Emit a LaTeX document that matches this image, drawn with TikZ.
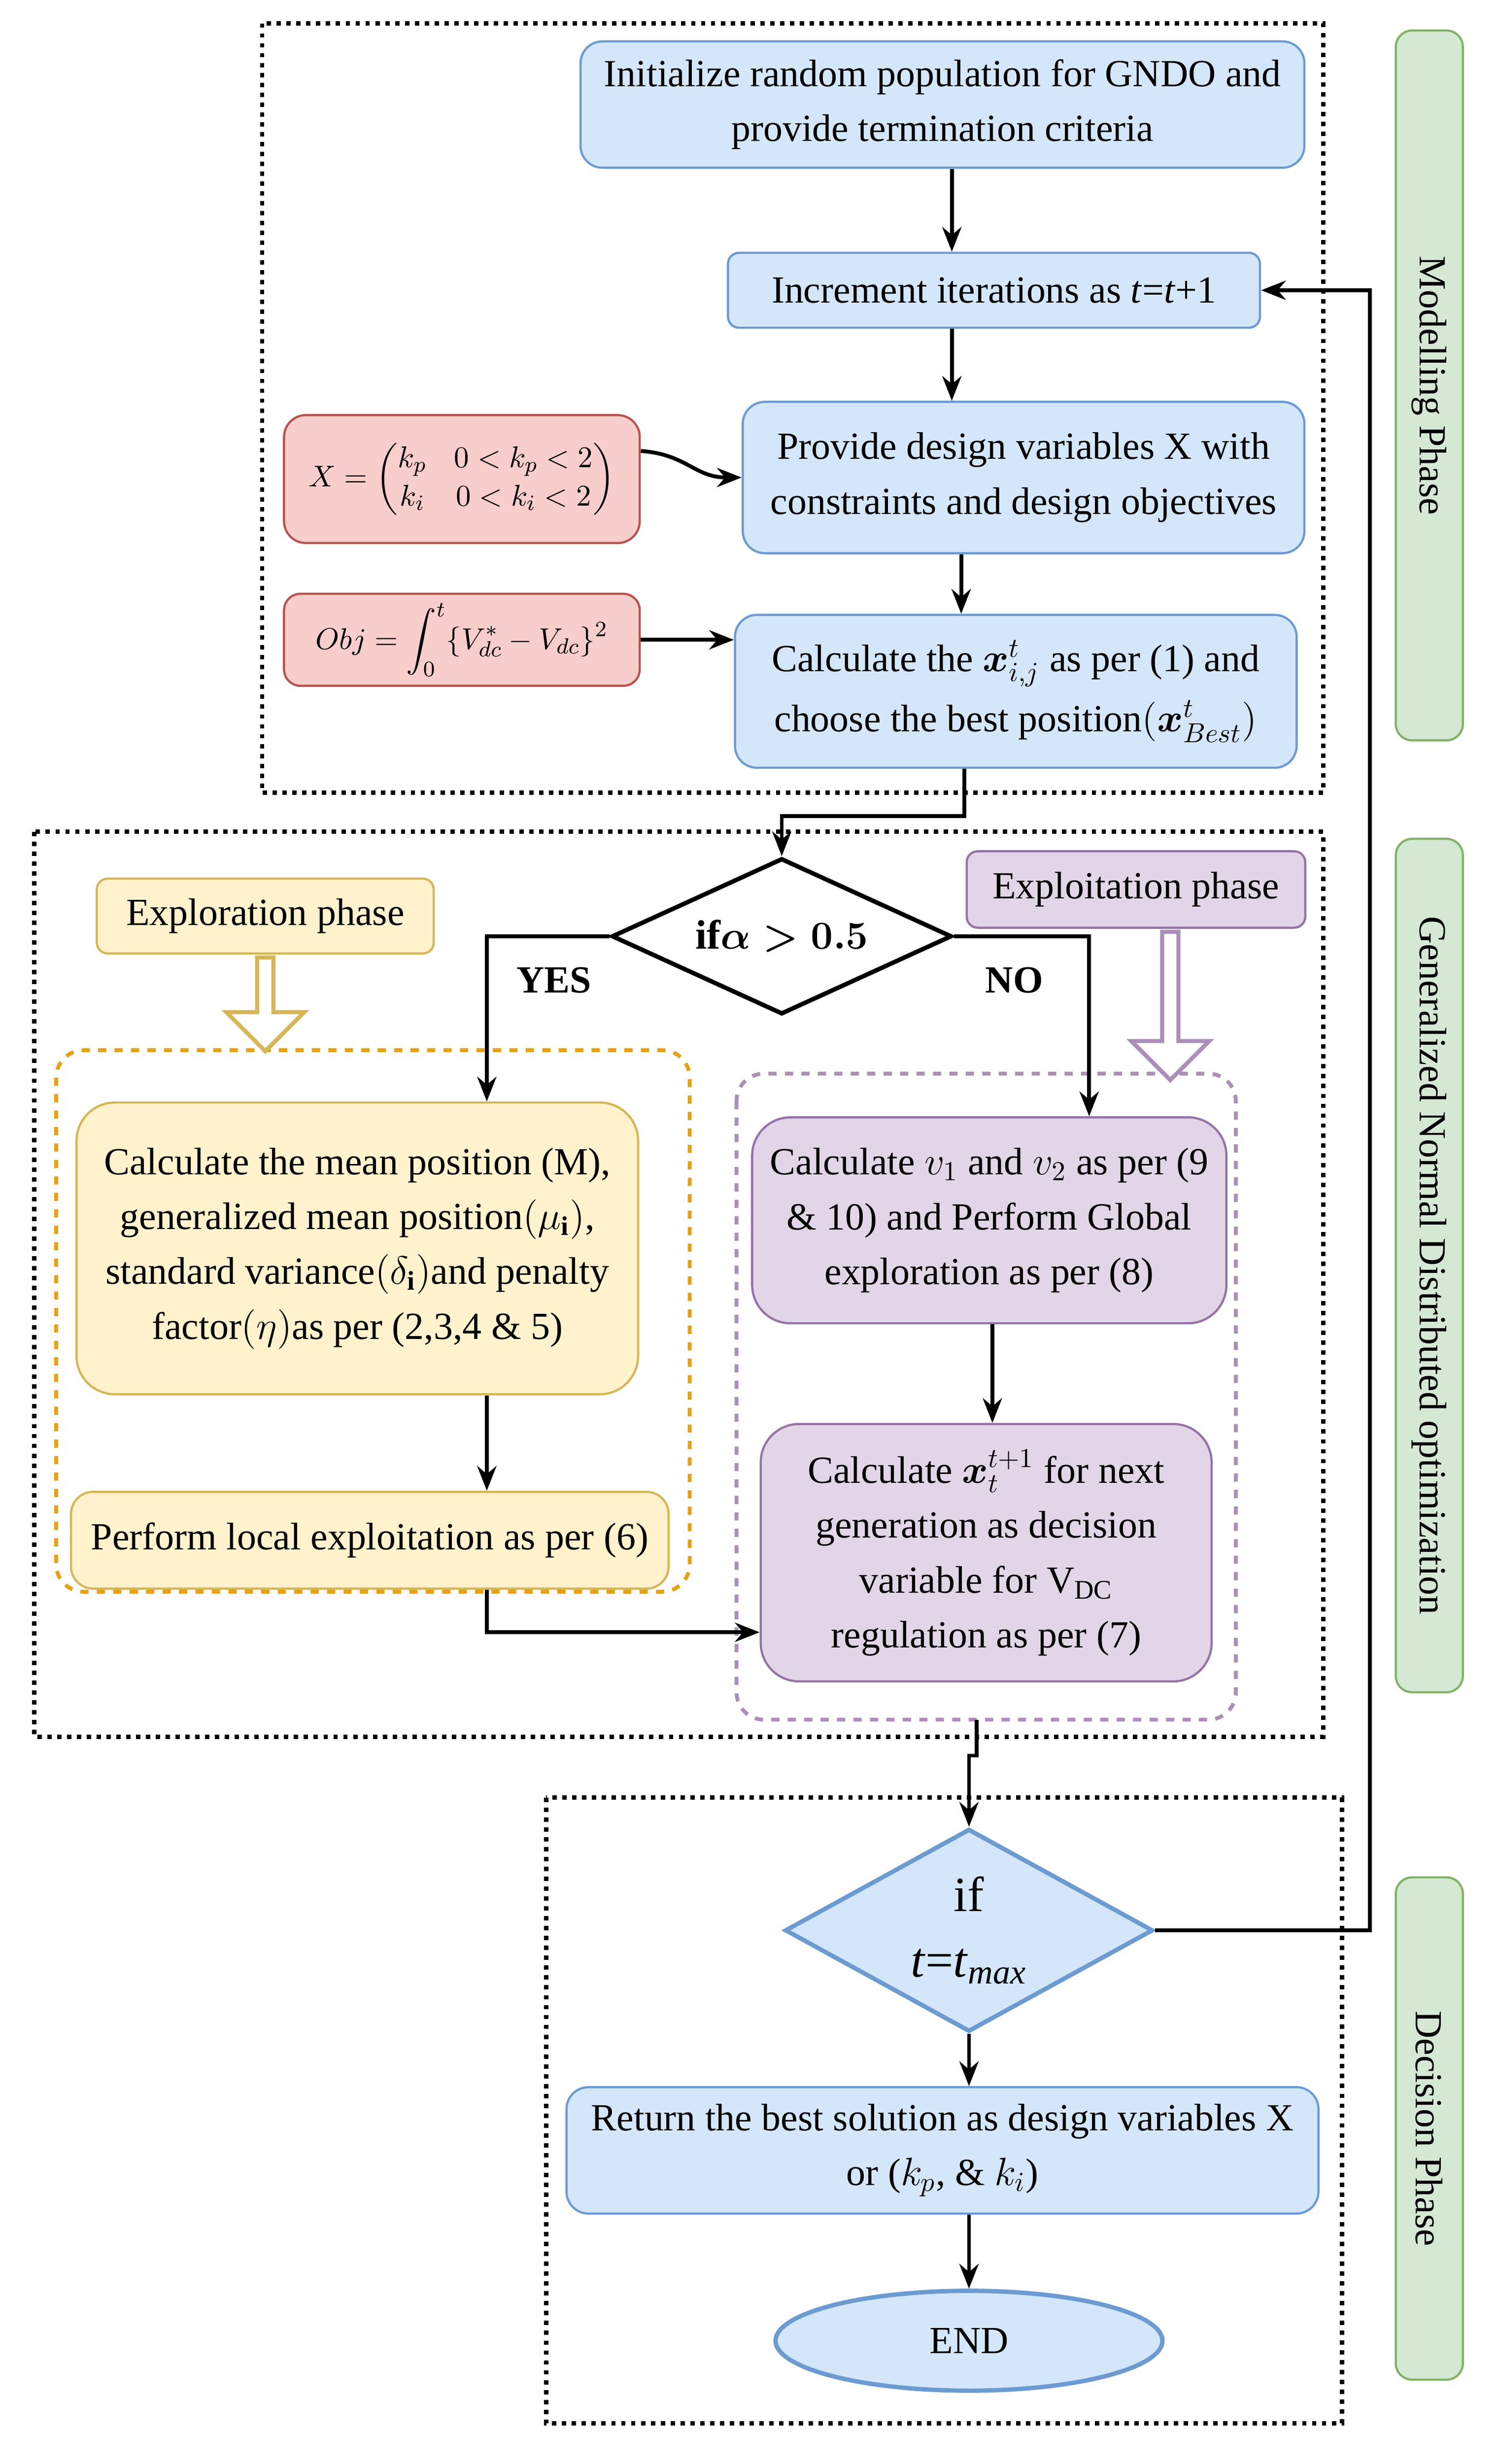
\documentclass[tikz,border=0pt]{standalone}
\usepackage{fontspec}
\usepackage{amsmath}
\setmainfont{Liberation Serif}
\usetikzlibrary{arrows.meta,shapes.geometric,shapes.arrows}
\definecolor{bluefill}{HTML}{D4E6F9}
\definecolor{blueline}{HTML}{6C9BD2}
\definecolor{redfill}{HTML}{F8CECC}
\definecolor{redline}{HTML}{B85450}
\definecolor{yelfill}{HTML}{FFF2CC}
\definecolor{yelline}{HTML}{D6B656}
\definecolor{purfill}{HTML}{E1D5E7}
\definecolor{purline}{HTML}{9673A6}
\definecolor{grnfill}{HTML}{D5E8D4}
\definecolor{grnline}{HTML}{82B366}
\definecolor{orgline}{HTML}{E6A117}
\tikzset{
  blk/.style={rounded corners=8pt, thick, align=center, inner sep=2pt, font=\fontsize{14}{20}\selectfont},
  bluebox/.style={blk, draw=blueline, fill=bluefill},
  redbox/.style={blk, draw=redline, fill=redfill, font=\fontsize{11}{14}\selectfont},
  yelbox/.style={blk, draw=yelline, fill=yelfill, rounded corners=14pt},
  purbox/.style={blk, draw=purline, fill=purfill, rounded corners=14pt},
  side/.style={blk, draw=grnline, fill=grnfill, rotate=-90, rounded corners=6pt},
  flow/.style={-{Stealth[length=9pt,width=7pt]}, line width=1.4pt},
  phase/.style={dotted, line width=1.6pt},
  hollow/.style={single arrow, draw=#1, line width=1.5pt, fill=white, rotate=-90,
    minimum width=1cm, single arrow head extend=0.1cm, single arrow tip angle=90, inner sep=0pt}
}
\begin{document}
\begin{tikzpicture}[x=0.02cm, y=-0.02cm]
  \useasboundingbox (0,0) rectangle (960,1579);
  % phase frames
  \draw[phase] (168,15) rectangle (848,508);
  \draw[phase] (22,533) rectangle (848,1113);
  \draw[phase] (350,1152) rectangle (860,1553);
  \draw[orgline, dashed, line width=1.4pt, rounded corners=10pt] (36,673) rectangle (442,1020);
  \draw[purline!80, dashed, line width=1.4pt, rounded corners=10pt] (472,688) rectangle (792,1102);

  % modelling phase
  \node[bluebox, minimum width=9.28cm, minimum height=1.62cm] (init) at (604,67)
    {Initialize random population for GNDO and\\provide termination criteria};
  \node[bluebox, minimum width=6.82cm, minimum height=0.96cm, rounded corners=4pt] (incr) at (637,186)
    {Increment iterations as \textit{t}=\textit{t}+1};
  \node[bluebox, minimum width=7.2cm, minimum height=1.94cm] (vars) at (656,306)
    {Provide design variables X with\\constraints and design objectives};
  \node[redbox, minimum width=4.56cm, minimum height=1.64cm] (xmat) at (296,307)
    {$X=\begin{pmatrix} k_p & 0<k_p<2\\ k_i & 0<k_i<2\end{pmatrix}$};
  \node[redbox, minimum width=4.56cm, minimum height=1.18cm, rounded corners=6pt] (obj) at (296,410)
    {$Obj=\displaystyle\int_0^t\{V_{dc}^*-V_{dc}\}^2$};
  \node[bluebox, minimum width=7.2cm, minimum height=1.96cm] (calc) at (651,443)
    {Calculate the $\boldsymbol{x}_{i,j}^{t}$ as per (1) and\\[2pt]choose the best position$\left(\boldsymbol{x}_{Best}^{t}\right)$};

  % GNDO phase
  \node[diamond, draw, line width=1.6pt, aspect=2.2, minimum width=4.36cm, minimum height=2cm,
    inner sep=0pt, font=\fontsize{15}{18}\selectfont\bfseries] (cond) at (501,600) {if$\boldsymbol{\alpha>0.5}$};
  \node[font=\fontsize{14}{16}\selectfont\bfseries] (yes) at (355,628) {YES};
  \node[font=\fontsize{14}{16}\selectfont\bfseries] (no) at (650,628) {NO};
  \node[yelbox, minimum width=4.32cm, minimum height=0.96cm, rounded corners=4pt] (explor) at (170,587) {Exploration phase};
  \node[hollow=yelline, minimum height=1.2cm] (harrow1) at (170,641) {};
  \node[purbox, minimum width=4.34cm, minimum height=0.98cm, rounded corners=4pt] (exploit) at (728,570) {Exploitation phase};
  \node[hollow=purline!80, minimum height=1.9cm] (harrow2) at (750,642) {};
  \node[yelbox, minimum width=7.2cm, minimum height=3.74cm] (mean) at (229,800)
    {Calculate the mean position (M),\\generalized mean position$\left(\mu_{\mathbf{i}}\right)$,\\standard variance$\left(\delta_{\mathbf{i}}\right)$and penalty\\factor$\left(\eta\right)$as per (2,3,4 \& 5)};
  \node[yelbox, minimum width=7.66cm, minimum height=1.24cm, rounded corners=8pt] (local) at (237,987)
    {Perform local exploitation as per (6)};
  \node[purbox, minimum width=6.08cm, minimum height=2.64cm] (global) at (634,782)
    {Calculate $v_1$ and $v_2$ as per (9\\\& 10) and Perform Global\\exploration as per (8)};
  \node[purbox, minimum width=5.78cm, minimum height=3.3cm] (next) at (632,995)
    {Calculate $\boldsymbol{x}_{t}^{t+1}$ for next\\generation as decision\\variable for V$_{\mathrm{DC}}$\\regulation as per (7)};

  % decision phase
  \node[diamond, draw=blueline, fill=bluefill, line width=1.6pt, aspect=1.8, minimum width=4.72cm,
    minimum height=2.6cm, inner sep=0pt, align=center, font=\fontsize{18}{24}\selectfont] (stop) at (621,1237)
    {if\\\textit{t}=\textit{t}$_{\mathit{max}}$};
  \node[bluebox, minimum width=9.64cm, minimum height=1.62cm] (ret) at (604,1378)
    {Return the best solution as design variables X\\or ($k_p$, \& $k_i$)};
  \node[ellipse, draw=blueline, fill=bluefill, line width=1.6pt, minimum width=4.96cm, minimum height=1.28cm,
    font=\fontsize{14}{16}\selectfont] (end) at (621,1500) {END};

  % side labels
  \node[side, minimum width=9.1cm, minimum height=0.86cm] (lab1) at (916,247) {Modelling Phase};
  \node[side, minimum width=10.94cm, minimum height=0.86cm] (lab2) at (916,811) {Generalized Normal Distributed optimization};
  \node[side, minimum width=6.44cm, minimum height=0.86cm] (lab3) at (916,1364) {Decision Phase};

  % connectors
  \draw[flow] (init.south -| 610,0) -- (incr.north -| 610,0);
  \draw[flow] (incr.south -| 610,0) -- (vars.north -| 610,0);
  \draw[flow] (xmat.east) ++(0,-18) .. controls (440,291) and (445,306) .. (vars.west);
  \draw[flow] (obj.east) -- (calc.west |- obj.east);
  \draw[flow] (vars.south -| 616,0) -- (calc.north -| 616,0);
  \draw[flow] (calc.south -| 618,0) |- (501,523) -- (cond.north);
  \draw[flow] (cond.west) -| (mean.north -| 312,0);
  \draw[flow] (cond.east) -| (global.north -| 698,0);
  \draw[flow] (mean.south -| 312,0) -- (local.north -| 312,0);
  \draw[flow] (local.south -| 312,0) |- (next.west |- 0,1046);
  \draw[flow] (global.south -| 636,0) -- (next.north -| 636,0);
  \draw[flow] (626,1102) -- (626,1125) -| (stop.north);
  \draw[flow] (stop.east) -| (878,186) -- (incr.east);
  \draw[flow] (stop.south) -- (ret.north -| stop.south);
  \draw[flow] (ret.south -| end.north) -- (end.north);
\end{tikzpicture}
\end{document}
